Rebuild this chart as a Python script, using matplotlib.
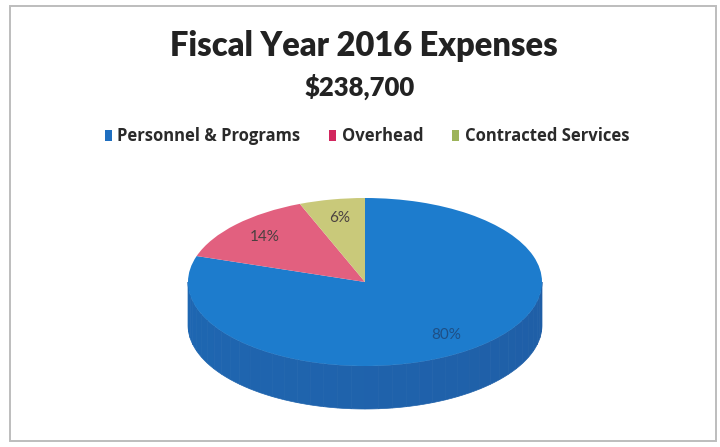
import matplotlib
matplotlib.use("Agg")
import matplotlib.pyplot as plt
import numpy as np
from matplotlib.patches import Polygon, Rectangle, Patch

# ---- data ----
title = "Fiscal Year 2016 Expenses"
subtitle = "$238,700"
categories = ["Personnel & Programs", "Overhead", "Contracted Services"]
shares = [80, 14, 6]

top_colors = ["#1d7ccd", "#e2607f", "#c9c97a"]
side_colors = ["#1f5ea6", "#b84564", "#a3a35a"]
legend_colors = ["#1f6fc0", "#d2275e", "#9db45a"]

W, H = 720, 447
fig = plt.figure(figsize=(W / 100, H / 100), dpi=100)
fig.patch.set_facecolor("white")

# border
bg = fig.add_axes([0, 0, 1, 1])
bg.set_xlim(0, W)
bg.set_ylim(H, 0)
bg.axis("off")
bg.add_patch(Rectangle((10, 6), 706, 435, fill=False, edgecolor="#bdbdbd", lw=1.4))

# pie axes: ellipse center, half-width, half-height, depth (pixels)
cx, cy, rx, ry, depth_px = 365, 282, 177, 84, 43
d = depth_px / ry
left_px, right_px = cx - rx, cx + rx
top_px, bot_px = cy - ry, cy + ry + depth_px
ax = fig.add_axes([left_px / W, 1 - bot_px / H, (right_px - left_px) / W, (bot_px - top_px) / H])

wedges, texts, autotexts = ax.pie(
    shares, colors=top_colors, startangle=90, counterclock=False,
    autopct="%.0f%%", pctdistance=0.78, radius=1.0,
    textprops=dict(fontsize=11, color="#4a4040", family="Lato"),
    wedgeprops=dict(linewidth=0),
)
ax.set_aspect("auto")
ax.set_xlim(-1, 1)
ax.set_ylim(-1 - d, 1)
ax.axis("off")
for w in wedges:
    w.set_clip_on(False)
    w.set_zorder(3)
for t in autotexts:
    t.set_zorder(5)
autotexts[0].set_color("#1d4f86")

# side of the 3D pie (front half only: angles between -180 and 0)
for w, sc in zip(wedges, side_colors):
    t1, t2 = w.theta1, w.theta2
    top_rgb = np.array(matplotlib.colors.to_rgb(w.get_facecolor()[:3]))
    base = np.array(matplotlib.colors.to_rgb(sc))
    for shift in (-360, 0, 360):
        a1, a2 = t1 + shift, t2 + shift
        lo, hi = max(a1, -180), min(a2, 0)
        if hi > lo:
            n = 40
            edges = np.linspace(lo, hi, n + 1)
            for i in range(n):
                th2 = np.radians(np.linspace(edges[i], edges[i + 1], 8))
                xs2, ys2 = np.cos(th2), np.sin(th2)
                poly = np.vstack([np.column_stack([xs2, ys2]),
                                  np.column_stack([xs2[::-1], ys2[::-1] - d])])
                mid = (edges[i] + edges[i + 1]) / 2
                f = 0.7 + 0.3 * ((mid + 180) / 180)
                col = np.clip(base * f + (1 - f) * top_rgb, 0, 1)
                ax.add_patch(Polygon(poly, closed=True, facecolor=col, edgecolor=col,
                                     lw=0.5, zorder=2, clip_on=False))

# titles
fig.text(364 / W, 1 - 46 / H, title, ha="center", va="center",
         fontsize=23.5, fontweight="heavy", family="Lato", color="#222222")
fig.text(360 / W, 1 - 87 / H, subtitle, ha="center", va="center",
         fontsize=18.5, fontweight="heavy", family="Lato", color="#222222")

# legend
handles = [Patch(facecolor=c, edgecolor="none") for c in legend_colors]
leg = fig.legend(handles, categories, loc="center", bbox_to_anchor=(367 / W, 1 - 136 / H),
                 ncol=3, frameon=False, handlelength=0.42, handleheight=0.65,
                 handletextpad=0.32, columnspacing=1.75,
                 prop=dict(family="Open Sans", weight="bold", size=12))
for t in leg.get_texts():
    t.set_color("#2a2a2a")

fig.savefig("out.png", dpi=100, facecolor="white")
